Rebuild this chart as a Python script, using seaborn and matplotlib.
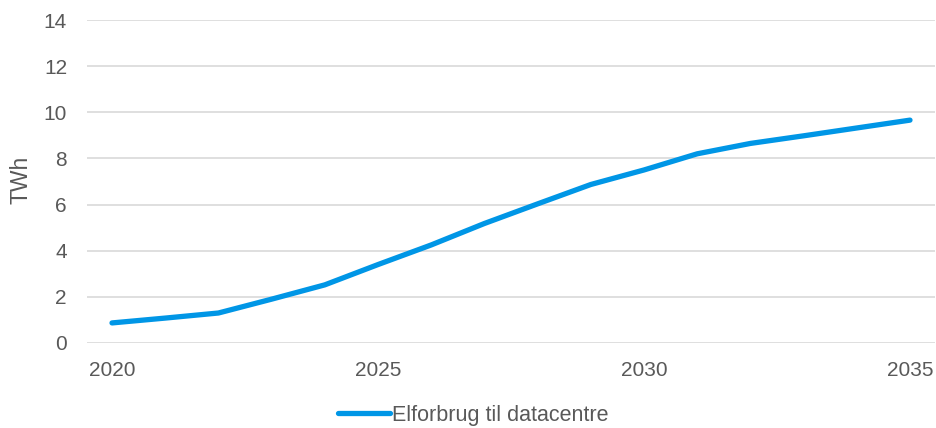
import matplotlib
matplotlib.use("Agg")
import matplotlib.pyplot as plt
import seaborn as sns
import pandas as pd

years = list(range(2020, 2036))
twh = [0.87, 1.08, 1.30, 1.90, 2.52, 3.40, 4.25, 5.18, 6.03, 6.87, 7.50, 8.20, 8.65, 8.98, 9.32, 9.66]
series_name = "Elforbrug til datacentre"
x_ticks = [2020, 2025, 2030, 2035]
y_ticks = [0, 2, 4, 6, 8, 10, 12, 14]

sns.set_theme(style="white")
plt.rcParams["font.family"] = ["Liberation Sans", "DejaVu Sans"]

text_color = "#595959"
grid_color = "#d9d9d9"
line_color = "#0096e6"

df = pd.DataFrame({"År": years, "TWh": twh, "Serie": series_name})

fig = plt.figure(figsize=(9.36, 4.28), dpi=100)
ax = fig.add_axes([87 / 936, 1 - 343 / 428, 848 / 936, 323 / 428])

sns.lineplot(data=df, x="År", y="TWh", hue="Serie", palette=[line_color],
             linewidth=3.8, ax=ax, solid_capstyle="round", legend=True)

ax.set_xlim(2019.53, 2035.47)
ax.set_ylim(0, 14)
ax.set_xticks(x_ticks)
ax.set_yticks(y_ticks)
ax.set_xticklabels([str(t) for t in x_ticks])
ax.yaxis.grid(True, color=grid_color, linewidth=1.2)
ax.xaxis.grid(False)
for s in ax.spines.values():
    s.set_visible(False)
ax.tick_params(axis="both", colors=text_color, labelsize=15, length=0)
ax.tick_params(axis="x", pad=13)
ax.tick_params(axis="y", pad=14.4)
ax.set_xlabel("")
ax.set_ylabel("")
fig.text(21 / 936, 1 - 180 / 428, "TWh", rotation=90, color=text_color,
         fontsize=16.5, ha="center", va="center")

handles, labels = ax.get_legend_handles_labels()
ax.get_legend().remove()
fig.legend(handles, labels, loc="center", bbox_to_anchor=(0.506, 1 - 415 / 428),
           frameon=False, fontsize=15.5, labelcolor=text_color,
           handlelength=2.4, handletextpad=0.1, borderpad=0)

fig.savefig("out.png", dpi=100)
